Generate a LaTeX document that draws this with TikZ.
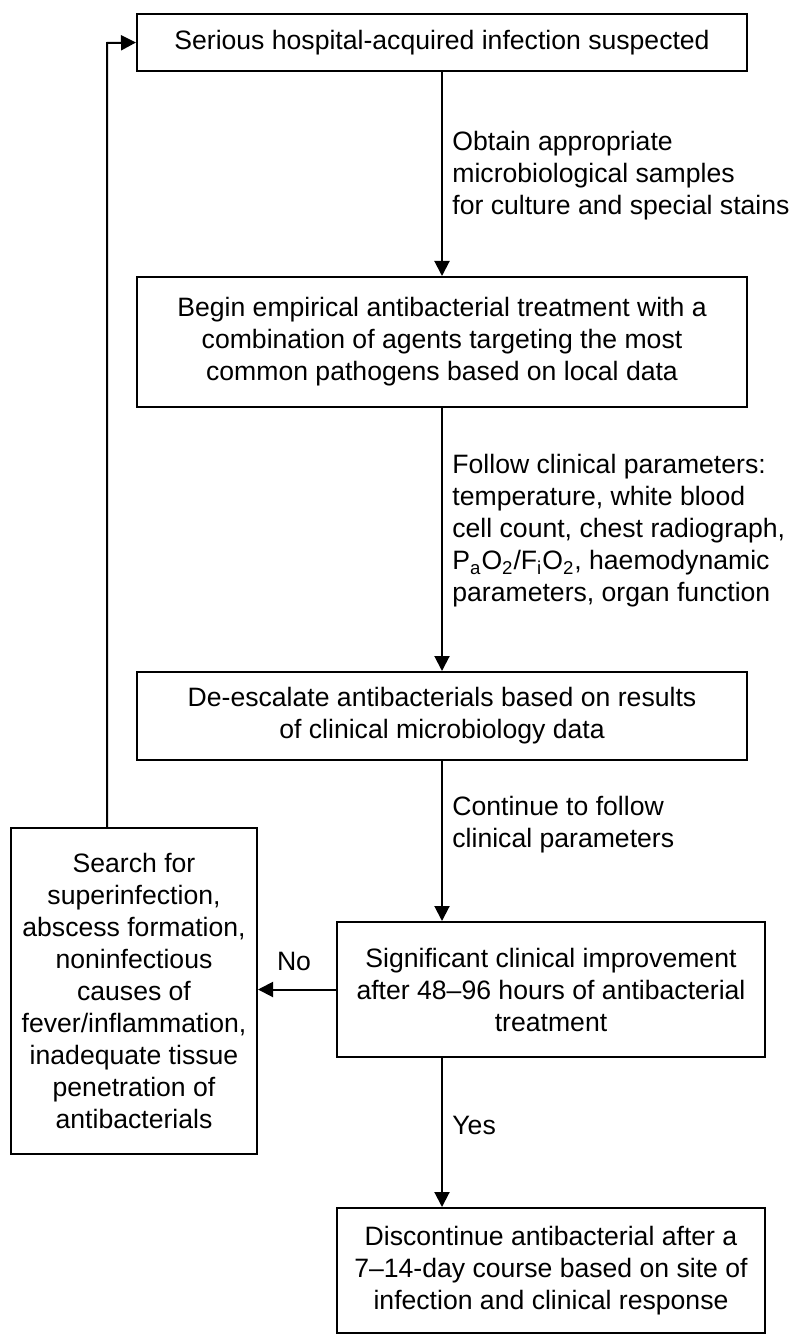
\documentclass[tikz,border=0pt]{standalone}
\usepackage{fontspec}
\setmainfont{Liberation Sans}
\usetikzlibrary{arrows.meta,positioning}

\begin{document}
\begin{tikzpicture}[
    x=0.5pt, y=-0.5pt,
    every node/.style={font=\fontsize{13.3}{16}\selectfont},
    flow/.style={draw=black,line width=1pt,align=center,inner sep=0pt},
    mainbox/.style={flow,minimum width=305pt},
    sidebox/.style={flow,minimum width=214pt},
    note/.style={align=left,anchor=west,inner sep=0pt},
    link/.style={line width=1pt,-{Triangle[length=7.5pt,width=7.5pt]}},
]
\useasboundingbox (0,0) rectangle (792,1336);

%% Main column
\node[mainbox,minimum height=28.5pt] (suspect) at (442,42.5)
    {Serious hospital-acquired infection suspected};
\node[mainbox,minimum height=65pt] (empiric) at (442,342)
    {Begin empirical antibacterial treatment with a\\
     combination of agents targeting the most\\
     common pathogens based on local data};
\node[mainbox,minimum height=44pt] (deescalate) at (442,716)
    {De-escalate antibacterials based on results\\
     of clinical microbiology data};
\node[sidebox,minimum height=67.5pt] (improve) at (551,989.5)
    {Significant clinical improvement\\
     after 48--96 hours of antibacterial\\
     treatment};
\node[sidebox,minimum height=62.5pt] (stop) at (551,1270.5)
    {Discontinue antibacterial after a\\
     7--14-day course based on site of\\
     infection and clinical response};

% Side box for the "No" branch
\node[flow,minimum width=123pt,minimum height=163pt] (search) at (134,991)
    {Search for\\superinfection,\\abscess formation,\\noninfectious\\causes of\\
     fever/inflammation,\\inadequate tissue\\penetration of\\antibacterials};

% Notes beside the arrows
\node[note] (samples) at (452,176)
    {Obtain appropriate\\microbiological samples\\for culture and special stains};
\node[note] (follow) at (452,531)
    {Follow clinical parameters:\\temperature, white blood\\cell count, chest radiograph,\\
     P\textsubscript{a}O\textsubscript{2}/F\textsubscript{i}O\textsubscript{2}, haemodynamic\\
     parameters, organ function};
\node[note] (keepon) at (452,825)
    {Continue to follow\\clinical parameters};
\node[note] (yes) at (452,1125) {Yes};
\node (no) at (294,961) {No};

% Arrows
\coordinate (back) at (107,43);
\draw[link] (suspect) -- (empiric);
\draw[link] (empiric) -- (deescalate);
\draw[link] (deescalate.south) -- (deescalate.south |- improve.north);
\draw[link] (deescalate.south |- improve.south) -- (deescalate.south |- stop.north);
\draw[link] (improve.west) -- (search.east |- improve.west);
\draw[link] (search.north -| back) -- (back) -- (suspect.west);

\end{tikzpicture}
\end{document}
